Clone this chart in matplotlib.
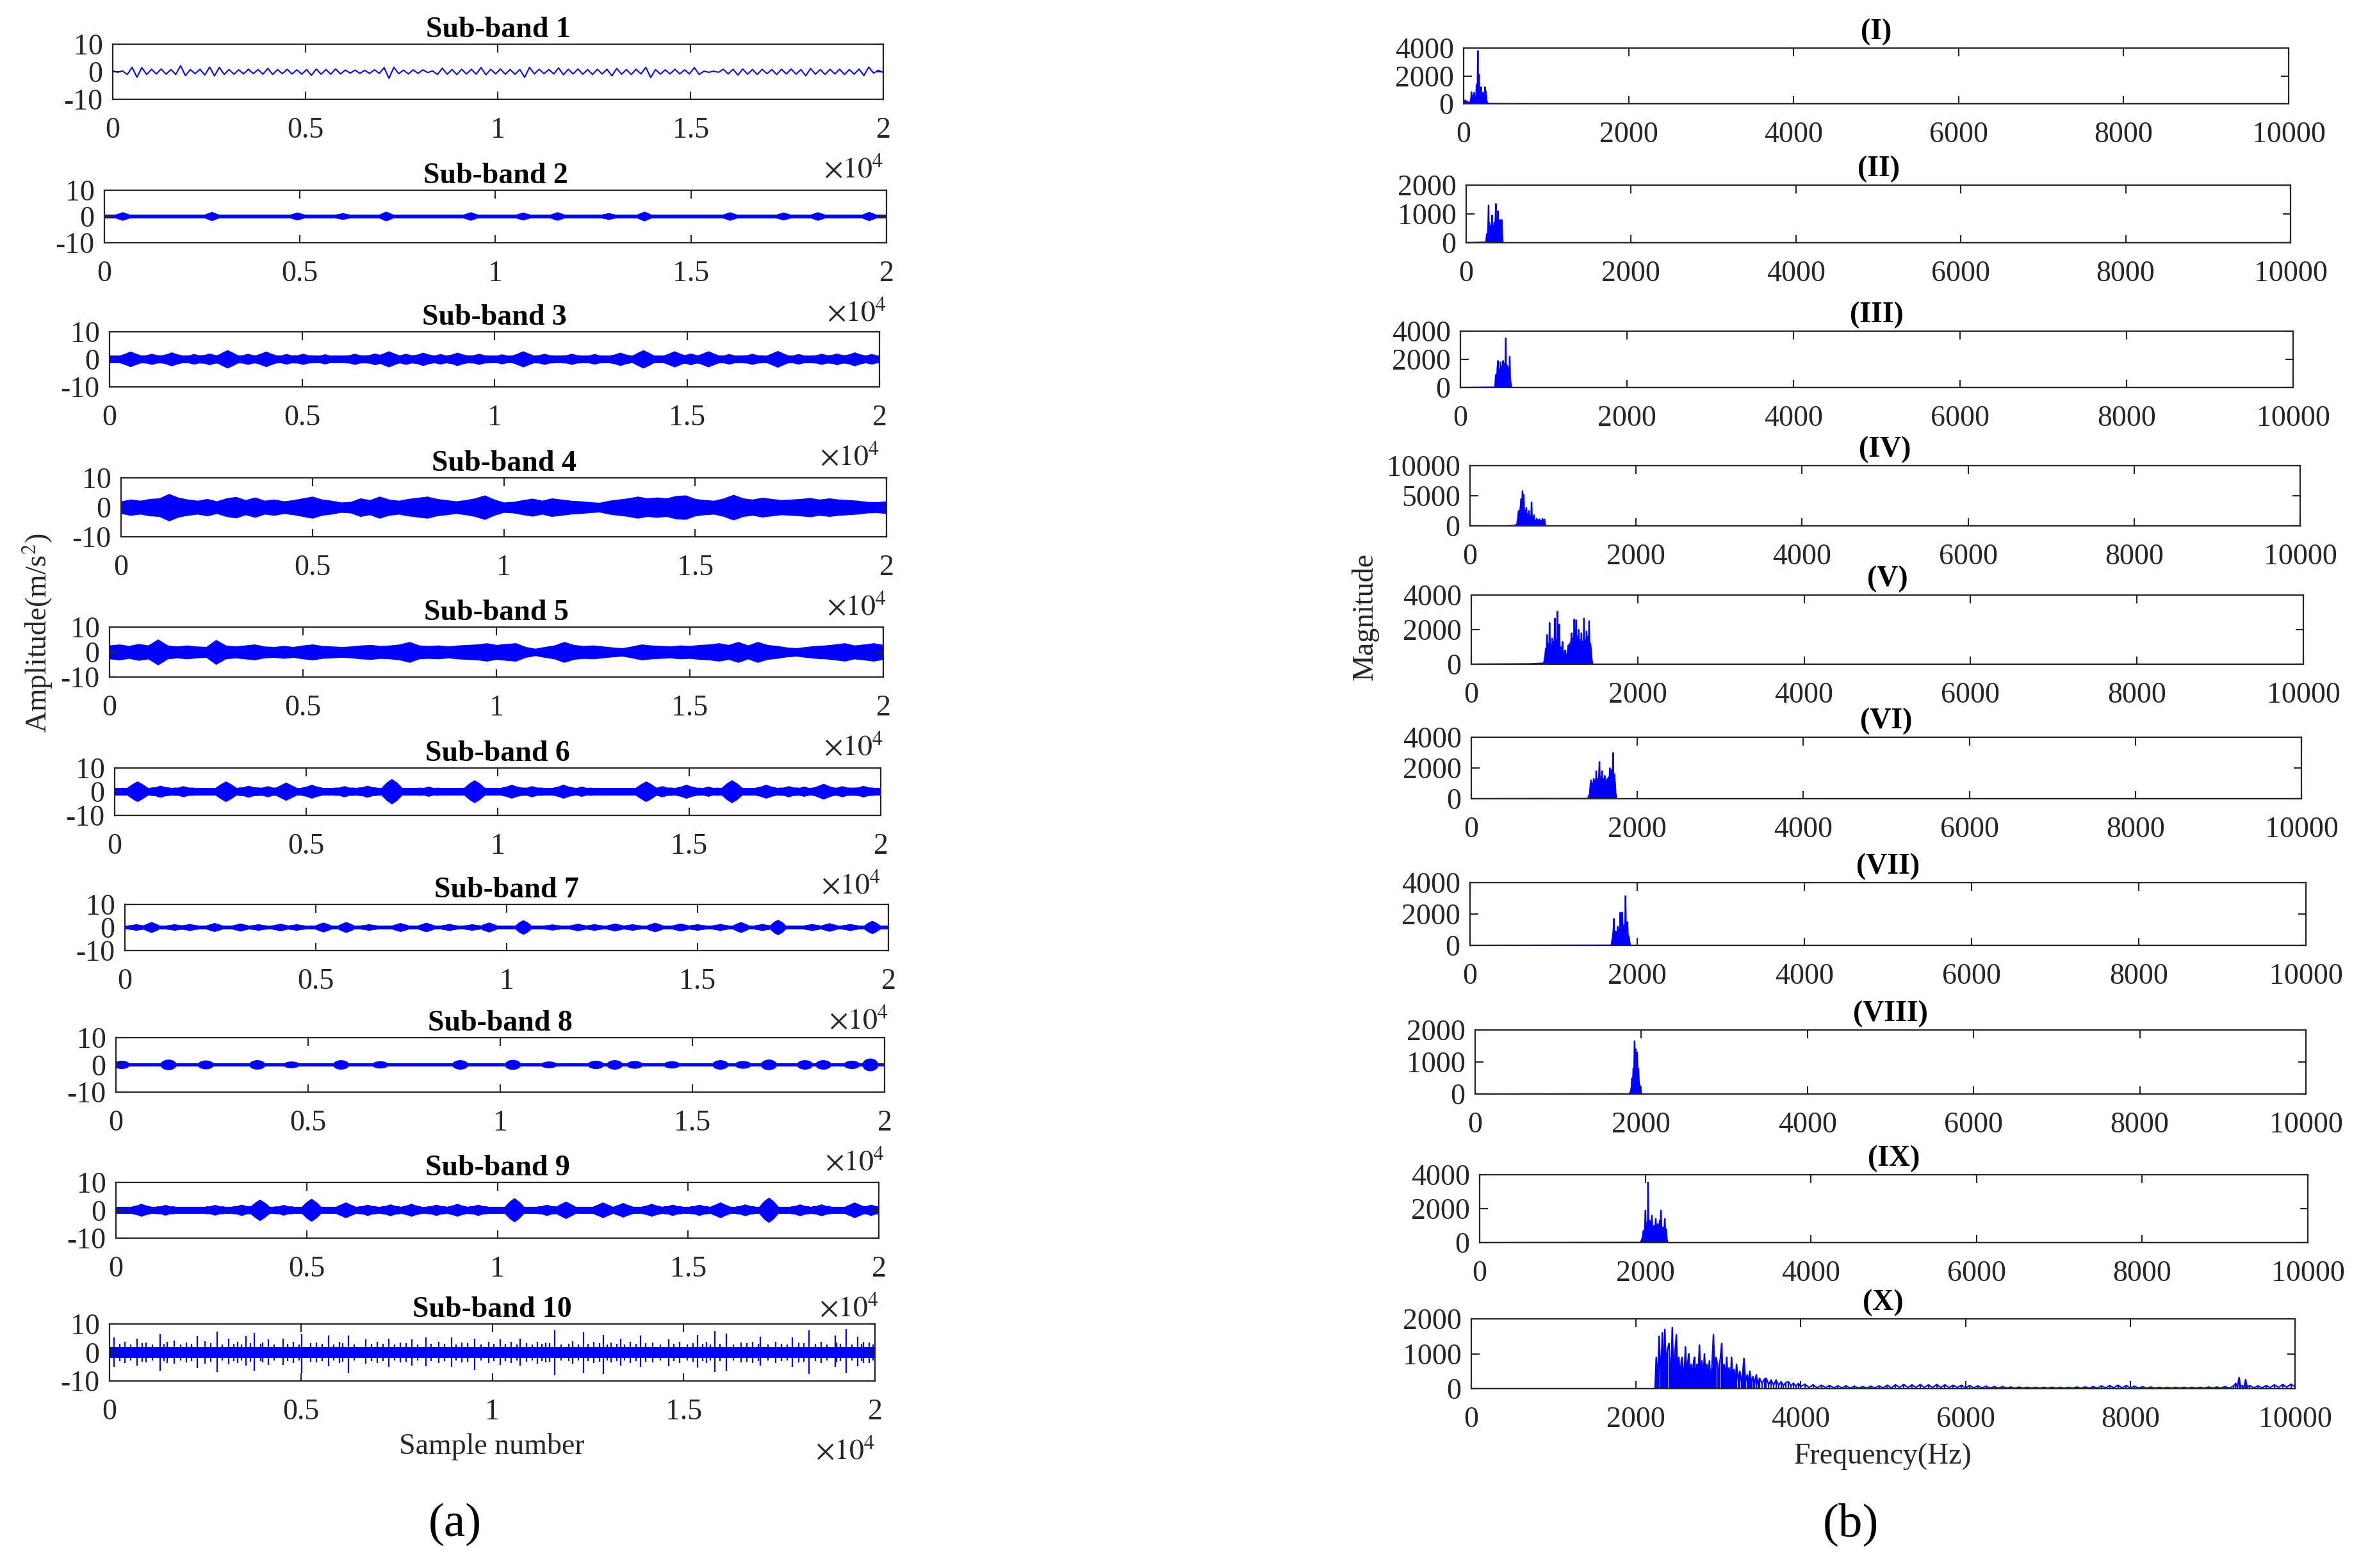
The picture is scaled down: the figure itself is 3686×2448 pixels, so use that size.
import numpy as np
import matplotlib
matplotlib.use('Agg')
import matplotlib.pyplot as plt
from matplotlib.patches import Ellipse, Polygon

plt.rcParams['font.family'] = ['Liberation Serif', 'DejaVu Serif']
plt.rcParams['mathtext.fontset'] = 'stix'
plt.rcParams['axes.unicode_minus'] = False

BLUE = '#0000FF'
DARK = '#262626'

# ---------------- data: time-domain sub-bands (samples 0..20000) ----------------
sb_titles = ['Sub-band %d' % k for k in range(1, 11)]
sample_ticks = [0, 5000, 10000, 15000, 20000]
sample_ticklabels = ['0', '0.5', '1', '1.5', '2']
amp_ticks = [-10, 0, 10]

# sub-band 1: successive oscillation extremes
sb1_extremes = [0.3, -0.2, 0.3, -1.0, 1.6, -2.0, 1.5, -1.0, 0.9, -0.8, 1.0, -0.9, 0.8, -1.0,
                2.2, -1.4, 0.8, -0.7, 0.9, -1.2, 1.7, -1.5, 1.6, -1.0,
                0.8, -0.9, 0.7, -0.8, 0.9, -0.7, 0.8, -0.9, 1.2, -1.0,
                0.8, -0.7, 0.9, -0.8, 0.7, -0.9, 0.8, -1.3, 1.0,
                -0.9, 0.8, -0.9, 1.0, -0.8, 0.6, -0.5, 0.6, -0.6, 0.5, -0.6, 0.7, -0.6,
                1.5, -2.4, 1.6, -0.7, 0.6, -0.8, 0.7, -0.6, 0.7, -0.3, 0.3, -1.0, 1.3,
                -0.9, 0.8, -1.0, 0.9, -0.8, 0.9, -0.9, 1.5, -1.1,
                0.9, -0.8, 1.0, -0.9, 0.8, -0.9, 0.8, -2.0, 1.6,
                -0.8, 0.9, -0.7, 0.8, -0.8, 1.4, -1.1,
                0.9, -0.8, 1.0, -0.9, 0.8, -1.0, 0.9, -0.8, 0.9, -1.5, 1.2,
                -0.9, 0.8, -1.0, 0.9, -0.8, 1.6, -2.1,
                0.8, -0.9, 0.7, -0.8, 0.9, -0.8, 0.7, -0.8, 1.5, -1.0,
                0.2, -0.2, 0.2, -0.2, 0.9, -0.8, 0.9, -1.2, 1.0,
                -0.9, 0.8, -1.0, 0.9, -0.7, 0.8, -1.0, 0.9, -0.8, 1.0, -0.9, 0.8, -1.5, 1.2,
                -0.9, 0.8, -1.0, 0.9, -0.8, 0.9, -1.0, 0.8, -0.9, 1.0, -1.4, 1.7, -0.5, 0.5, -0.3]

# bursty sub-bands: half-width of the quiet band + burst centres / peak amplitudes
sb2_base = 0.65
sb2_burst_at = [470, 2750, 4940, 6100, 7210, 9370, 10710, 11590, 12900, 13810, 16000, 17370, 18250, 19560]
sb2_burst_amp = [1.5, 1.6, 1.4, 1.2, 1.7, 1.5, 1.4, 1.5, 1.2, 1.7, 1.5, 1.4, 1.5, 1.6]

sb3_base = 1.3
sb3_burst_at = [550, 1620, 3070, 4070, 5030, 6370, 7260, 8150, 9040, 10750, 12010, 13270, 13870, 14680, 15560, 17360, 19360,
                1100, 2200, 2600, 3600, 4600, 5600, 6900, 7700, 8600, 9600, 10200, 11300, 12600, 15100, 16100, 16700, 17900, 18500, 18900, 19800]
sb3_burst_amp = [2.7, 2.4, 3.2, 2.7, 1.9, 1.9, 2.8, 2.3, 2.3, 2.8, 1.9, 2.3, 3.2, 2.8, 2.8, 2.9, 2.4,
                 1.9, 1.8, 2.0, 1.9, 1.8, 1.7, 2.0, 1.9, 1.8, 1.9, 1.7, 1.9, 1.8, 2.0, 1.8, 1.9, 1.8, 1.9, 2.0, 1.8]

# envelopes for sub-bands 4 and 5, read every 250 samples
sb4_env = [2.0, 2.6, 2.2, 2.8, 3.0, 4.5, 3.2, 2.6, 2.2, 2.8, 2.0, 3.0, 3.5, 2.4, 3.3, 2.2, 2.6, 2.0, 2.4, 3.0,
           3.6, 2.6, 2.2, 1.6, 1.8, 3.0, 2.4, 3.6, 2.6, 2.2, 2.8, 3.2, 3.6, 2.8, 2.4, 2.0, 2.4, 3.0, 4.0, 2.6,
           1.6, 1.8, 2.4, 2.9, 2.2, 3.0, 2.6, 2.2, 2.0, 1.7, 1.5, 2.2, 2.6, 3.0, 3.6, 3.0, 3.3, 3.0, 3.8, 4.0,
           2.8, 2.4, 2.2, 3.0, 4.2, 3.0, 2.6, 3.2, 2.8, 2.4, 2.6, 2.8, 3.1, 2.6, 3.0, 2.6, 2.4, 2.2, 1.8, 1.7, 2.0]
sb5_env = [2.6, 3.0, 2.4, 3.2, 2.6, 5.0, 2.6, 2.2, 2.6, 2.2, 2.0, 4.8, 2.6, 2.2, 2.6, 3.0, 2.2, 2.0, 2.4, 2.0,
           2.6, 3.0, 2.4, 2.2, 2.0, 2.2, 2.6, 2.8, 2.4, 2.6, 3.0, 4.0, 2.6, 2.4, 2.6, 2.2, 2.6, 2.8, 3.0, 3.5,
           2.8, 3.2, 3.5, 2.0, 1.3, 2.0, 2.6, 4.0, 2.8, 2.4, 2.6, 2.2, 1.8, 1.5, 2.2, 3.0, 2.6, 2.4, 2.2, 2.6,
           2.4, 2.8, 3.0, 3.5, 2.8, 4.0, 2.6, 4.0, 2.8, 2.4, 1.8, 1.5, 2.0, 2.4, 2.6, 3.0, 3.5, 2.6, 3.0, 3.5, 2.8]

sb6_base = 1.6
sb6_burst_at = [600, 2910, 4480, 5150, 7240, 9400, 10370, 11720, 13880, 14930, 16120, 17010, 18510, 19550,
                1200, 1800, 3500, 4000, 6000, 6600, 8200, 10900, 12200, 14300, 15500, 17600, 18000, 19000]
sb6_burst_amp = [4.2, 4.2, 3.7, 2.8, 5.2, 4.7, 2.8, 2.8, 4.2, 2.8, 4.7, 2.8, 3.2, 2.3,
                 2.4, 2.2, 2.4, 2.2, 2.2, 2.4, 2.0, 2.2, 2.0, 2.2, 2.0, 2.2, 2.0, 2.2]

sb7_base = 0.8
sb7_burst_at = [300, 700, 1300, 1700, 2350, 3030, 3500, 4070, 4500, 5200, 5800, 6400, 7220, 7900, 8500, 9100, 9540,
                10440, 11200, 11870, 12300, 12840, 13300, 13890, 14560, 15000, 15600, 16140, 16700, 17110, 18000, 18460, 19000, 19580]
sb7_burst_amp = [1.3, 2.2, 1.3, 1.4, 1.8, 1.6, 1.3, 1.5, 1.3, 2.0, 2.2, 1.3, 1.8, 1.9, 1.4, 1.3, 2.0,
                 3.0, 1.2, 1.5, 1.3, 1.6, 1.3, 1.9, 1.6, 1.3, 1.4, 2.2, 1.4, 3.2, 1.4, 1.7, 1.4, 2.7]

sb8_base = 0.55
sb8_burst_at = [150, 1370, 2340, 3680, 4570, 5860, 6880, 8960, 10330, 11270, 12490, 12980, 13500, 14470, 15730, 16320,
                16990, 17930, 18410, 19150, 19630]
sb8_burst_amp = [1.4, 1.8, 1.5, 1.6, 1.1, 1.6, 1.2, 1.6, 1.7, 1.1, 1.4, 1.6, 1.3, 1.2, 1.6, 1.3, 1.8, 1.6, 1.6, 1.4, 2.2]

sb9_base = 1.3
sb9_burst_at = [670, 1300, 2600, 3300, 3780, 4400, 5130, 6030, 6600, 7200, 7750, 8400, 8950, 9500, 10450, 11300, 11800,
                12770, 13300, 14050, 14600, 15300, 15850, 16500, 17120, 17940, 18500, 19370, 19800]
sb9_burst_amp = [2.2, 1.8, 1.8, 1.9, 3.7, 1.8, 4.0, 2.7, 1.9, 2.0, 2.2, 1.9, 2.2, 1.9, 4.2, 1.9, 3.0,
                 2.7, 2.5, 2.2, 1.9, 1.9, 2.7, 2.0, 4.4, 2.0, 2.0, 2.7, 1.9]

sb10_base = 1.9
sb10_spike_at = [120, 718, 1315, 1689, 2287, 2810, 3109, 3557, 3782, 4155, 4529, 5022, 5725, 6248, 6697, 7294, 7892, 8266,
                 8939, 9537, 10209, 10732, 11181, 11629, 12377, 12900, 13348, 13871, 14619, 15366, 15815, 16114, 17010,
                 17833, 18281, 18954, 19253, 19552, 19851]
sb10_spike_up = [5.2, 4.8, 6.4, 4.1, 5.7, 7.3, 4.8, 5.7, 6.8, 4.5, 4.8, 6.5, 5.9, 5.9, 4.5, 4.8, 4.5, 5.2, 5.2, 4.8,
                 4.5, 4.8, 3.8, 7.7, 7.1, 6.2, 4.8, 5.9, 4.5, 6.2, 7.5, 6.6, 5.5, 5.2, 7.8, 5.9, 8.2, 5.5, 3.4]
sb10_spike_dn = [5.1, 4.5, 6.5, 4.0, 5.5, 6.9, 4.2, 4.5, 6.5, 4.3, 4.4, 7.2, 4.8, 7.2, 4.0, 5.0, 4.6, 4.8, 5.1, 6.1,
                 4.4, 4.6, 4.0, 7.9, 7.4, 7.6, 4.5, 5.0, 4.8, 5.2, 6.9, 6.5, 4.6, 5.0, 7.6, 5.0, 7.4, 4.8, 3.8]
sb10_mid_at = [400, 950, 1500, 2000, 2500, 3350, 4000, 4800, 5400, 6000, 7000, 7600, 8600, 9200, 9900, 10500, 11400,
               12100, 12650, 13100, 13600, 14200, 14900, 15600, 16500, 16800, 17400, 18000, 18600, 19000, 19700]
sb10_mid_amp = [3.6, 3.4, 3.8, 3.5, 3.9, 3.6, 3.4, 3.7, 3.5, 3.8, 3.6, 3.4, 3.7, 3.5, 3.6, 3.8, 3.4, 3.9, 3.6, 3.5,
                3.7, 3.4, 3.6, 3.8, 3.5, 3.7, 3.6, 3.4, 3.8, 3.5, 3.6]
sb10_small_at = [260, 560, 860, 1120, 1420, 1850, 2150, 2650, 2950, 3250, 3450, 3680, 3950, 4300, 4650, 4950, 5250,
                 5550, 5850, 6100, 6400, 6850, 7150, 7450, 7750, 8050, 8400, 8750, 9050, 9350, 9700, 10050, 10350,
                 10650, 10900, 11050, 11300, 11500, 11800, 12000, 12250, 12500, 12800, 13000, 13250, 13450, 13750,
                 14000, 14400, 14750, 15100, 15250, 15500, 15700, 15950, 16300, 16650, 16950, 17200, 17550, 17700,
                 18150, 18450, 18750, 19100, 19400, 19650, 19950]
sb10_small_amp = [3.0, 2.8, 3.2, 2.9, 3.1, 2.8, 3.0, 3.3, 2.9, 3.1, 2.8, 3.2, 3.0, 2.9, 3.1, 2.8, 3.2, 3.0, 2.9, 3.3,
                  2.8, 3.0, 3.1, 2.9, 3.2, 2.8, 3.0, 3.1, 2.9, 3.2, 2.8, 3.0, 3.1, 2.9, 3.3, 2.8, 3.0, 3.2, 2.9, 3.1,
                  2.8, 3.0, 3.2, 2.9, 3.1, 2.8, 3.0, 3.3, 2.9, 3.1, 2.8, 3.2, 3.0, 2.9, 3.1, 2.8, 3.2, 3.0, 2.9, 3.1,
                  2.8, 3.2, 3.0, 2.9, 3.1, 2.8, 3.0, 2.9]

# ---------------- data: spectra (bin frequency, magnitude) ----------------
spec_titles = ['(I)', '(II)', '(III)', '(IV)', '(V)', '(VI)', '(VII)', '(VIII)', '(IX)', '(X)']
spec_ymax = [4000, 2000, 4000, 10000, 4000, 4000, 4000, 2000, 4000, 2000]
freq_ticks = [0, 2000, 4000, 6000, 8000, 10000]

s1_f = [0, 10, 20, 30, 40, 50, 60, 70, 80, 90, 95, 100, 110, 120, 130, 135, 140, 150, 157, 163, 168, 173, 178, 183, 188,
        193, 200, 207, 212, 218, 225, 231, 236, 242, 248, 254, 259, 265, 270, 275, 282, 290, 300, 500, 900, 10000]
s1_m = [300, 120, 250, 80, 200, 60, 120, 50, 150, 400, 850, 300, 600, 200, 800, 350, 500, 250, 1400, 600, 1000, 3800, 700,
        1500, 2100, 500, 900, 300, 1200, 250, 600, 200, 800, 300, 700, 200, 1200, 300, 900, 600, 150, 50, 10, 5, 0, 0]
s2_f = [0, 240, 250, 258, 265, 272, 275, 280, 287, 294, 300, 307, 314, 320, 327, 334, 340, 347, 354, 361, 367, 374, 380,
        385, 390, 396, 402, 408, 414, 420, 426, 432, 438, 445, 10000]
s2_m = [0, 20, 300, 150, 500, 1300, 300, 700, 200, 600, 250, 500, 950, 200, 600, 300, 700, 250, 800, 1350, 300, 700, 400,
        1100, 500, 700, 300, 800, 300, 750, 400, 800, 300, 0, 0]
s3_f = [0, 415, 425, 435, 445, 451, 458, 465, 472, 478, 482, 488, 495, 502, 508, 513, 520, 527, 533, 540, 545, 550, 556,
        562, 568, 574, 580, 586, 592, 598, 605, 612, 10000]
s3_m = [0, 20, 900, 400, 1500, 1900, 700, 1300, 600, 1400, 1800, 800, 1500, 700, 1600, 1900, 800, 1700, 900, 1800, 3500,
        900, 1600, 700, 1500, 600, 1300, 500, 2200, 700, 300, 0, 0]
s4_f = [0, 450, 540, 565, 575, 585, 595, 605, 616, 624, 632, 640, 647, 655, 663, 671, 679, 687, 695, 703, 710, 718, 726,
        734, 741, 749, 757, 765, 772, 780, 788, 796, 803, 811, 819, 827, 835, 843, 851, 859, 866, 874, 882, 890, 897, 905,
        915, 10000]
s4_m = [0, 0, 50, 300, 1200, 2500, 1500, 2800, 4500, 2000, 5800, 3000, 5200, 1800, 2600, 1200, 3000, 900, 2000, 800, 2500,
        1000, 1600, 700, 3900, 900, 1500, 600, 1800, 500, 900, 400, 1200, 500, 1000, 300, 1100, 400, 900, 300, 800, 1200,
        300, 700, 1100, 300, 0, 0]
s5_f = [0, 700, 870, 885, 895, 903, 910, 918, 926, 934, 941, 949, 957, 965, 972, 980, 988, 996, 1004, 1012, 1020, 1028,
        1035, 1043, 1050, 1058, 1066, 1074, 1082, 1090, 1097, 1105, 1113, 1120, 1128, 1136, 1144, 1152, 1160, 1167, 1175,
        1183, 1191, 1199, 1206, 1214, 1222, 1230, 1237, 1245, 1253, 1261, 1269, 1277, 1285, 1292, 1300, 1308, 1316, 1323,
        1331, 1339, 1347, 1354, 1362, 1370, 1378, 1385, 1393, 1401, 1409, 1416, 1424, 1432, 1440, 1448, 1458, 10000]
s5_m = [0, 20, 60, 400, 900, 600, 1700, 500, 1200, 700, 2400, 600, 1100, 400, 1500, 500, 1300, 700, 2650, 800, 1400, 900,
        3050, 700, 1500, 2300, 600, 1000, 300, 800, 1300, 300, 700, 250, 800, 300, 600, 400, 900, 1100, 500, 1200, 600, 1400,
        1800, 700, 1500, 900, 2600, 800, 1300, 2550, 700, 1600, 900, 2000, 800, 1400, 600, 1800, 700, 1300, 800, 2650, 900,
        1400, 700, 1900, 800, 1600, 900, 2500, 700, 1200, 800, 300, 0, 0]
s6_f = [0, 1400, 1425, 1435, 1443, 1451, 1459, 1466, 1474, 1482, 1490, 1498, 1505, 1513, 1521, 1529, 1537, 1544, 1552,
        1560, 1568, 1576, 1584, 1592, 1600, 1607, 1615, 1623, 1630, 1638, 1646, 1654, 1662, 1669, 1677, 1685, 1693, 1700,
        1708, 1716, 1724, 1732, 1740, 1750, 10000]
s6_m = [0, 10, 300, 900, 1200, 500, 1000, 600, 1300, 700, 1200, 800, 1800, 600, 1300, 700, 1500, 2400, 800, 1400, 900,
        1800, 700, 1300, 600, 1500, 800, 1200, 500, 1300, 700, 1400, 900, 2000, 800, 1500, 1900, 900, 3000, 800, 1600, 1100,
        300, 0, 0]
s7_f = [0, 1690, 1705, 1713, 1721, 1729, 1737, 1744, 1752, 1760, 1767, 1775, 1783, 1790, 1798, 1806, 1814, 1821, 1829,
        1837, 1845, 1852, 1860, 1868, 1875, 1883, 1891, 1900, 1910, 1920, 10000]
s7_m = [0, 10, 500, 900, 1700, 400, 800, 900, 300, 700, 1200, 500, 1000, 800, 2100, 700, 1400, 2100, 800, 1200, 1300, 600,
        3150, 700, 1200, 1500, 500, 600, 200, 0, 0]
s8_f = [0, 1850, 1870, 1880, 1888, 1896, 1904, 1911, 1919, 1927, 1934, 1942, 1950, 1958, 1966, 1974, 1981, 1990, 2000, 10000]
s8_m = [0, 5, 60, 200, 500, 300, 800, 600, 1650, 900, 1400, 1000, 1300, 700, 800, 300, 300, 60, 0, 0]
s9_f = [0, 1940, 1960, 1970, 1978, 1986, 1994, 2002, 2010, 2018, 2025, 2029, 2033, 2041, 2049, 2056, 2064, 2072, 2080,
        2088, 2096, 2103, 2111, 2119, 2127, 2135, 2143, 2150, 2158, 2166, 2174, 2182, 2190, 2198, 2205, 2213, 2221, 2229,
        2236, 2244, 2252, 2262, 2272, 10000]
s9_m = [0, 10, 200, 400, 700, 300, 900, 1900, 500, 900, 1200, 600, 3550, 700, 900, 1300, 500, 900, 1600, 600, 700, 1000,
        400, 800, 1400, 500, 700, 1100, 400, 800, 1300, 600, 1900, 700, 400, 900, 500, 700, 1400, 600, 800, 200, 0, 0]
s10_points = [(0, 0), (2200, 0), (2230, 0), (2245, 900), (2265, 300), (2280, 1500), (2300, 400), (2320, 1600), (2335, 500),
              (2350, 1700), (2365, 600), (2380, 1100), (2400, 1300), (2415, 300), (2430, 900), (2440, 1750), (2455, 500),
              (2470, 1000), (2490, 1550), (2505, 400), (2520, 900), (2535, 300), (2550, 800), (2560, 900), (2575, 300),
              (2590, 700), (2600, 1200), (2615, 400), (2630, 800), (2640, 1000), (2655, 300), (2670, 700), (2685, 400),
              (2700, 800), (2710, 900), (2725, 300), (2740, 700), (2755, 500), (2770, 1250), (2785, 400), (2800, 800),
              (2815, 300), (2830, 1000), (2845, 400), (2860, 700), (2875, 250), (2890, 800), (2905, 300), (2920, 600),
              (2940, 1550), (2955, 400), (2970, 900), (2990, 700), (3005, 300), (3020, 800), (3040, 1300), (3055, 300),
              (3070, 700), (3085, 250), (3100, 900), (3115, 300), (3130, 600), (3145, 200), (3160, 900), (3175, 300),
              (3190, 550), (3205, 200), (3220, 700), (3240, 250), (3260, 500), (3280, 200), (3295, 450), (3310, 870),
              (3330, 200), (3350, 400), (3365, 150), (3380, 500), (3400, 200), (3420, 350), (3440, 150), (3460, 400),
              (3480, 120), (3500, 300), (3530, 150), (3560, 280), (3580, 300), (3610, 120), (3640, 250), (3670, 100),
              (3700, 250), (3730, 100), (3760, 200), (3790, 90), (3820, 180), (3850, 200), (3880, 80), (3910, 160),
              (3940, 70), (3970, 150), (4000, 60), (4050, 130), (4100, 30), (4150, 110), (4200, 20), (4250, 100),
              (4300, 30), (4350, 90), (4400, 20), (4450, 80), (4500, 20), (4550, 80), (4600, 15), (4650, 70), (4700, 15),
              (4750, 60), (4800, 15), (4850, 70), (4900, 20), (4950, 80), (5000, 20), (5050, 100), (5100, 20), (5150, 110),
              (5200, 30), (5250, 120), (5300, 30), (5350, 110), (5400, 30), (5450, 120), (5500, 30), (5550, 110),
              (5600, 30), (5650, 120), (5700, 30), (5750, 110), (5800, 30), (5850, 100), (5900, 30), (5950, 100),
              (6000, 20), (6050, 90), (6100, 20), (6150, 80), (6200, 20), (6250, 70), (6300, 15), (6350, 60), (6400, 15),
              (6450, 60), (6500, 15), (6550, 50), (6600, 10), (6650, 50), (6700, 10), (6750, 40), (6800, 10), (6850, 40),
              (6900, 10), (6950, 40), (7000, 10), (7050, 40), (7100, 10), (7150, 40), (7200, 10), (7250, 40), (7300, 10),
              (7350, 50), (7400, 10), (7450, 50), (7500, 15), (7550, 60), (7600, 15), (7650, 80), (7700, 20), (7750, 90),
              (7800, 20), (7850, 100), (7900, 20), (7950, 90), (8000, 20), (8050, 70), (8100, 15), (8150, 60), (8200, 10),
              (8250, 50), (8300, 10), (8350, 40), (8400, 10), (8450, 40), (8500, 10), (8550, 40), (8600, 10), (8650, 40),
              (8700, 10), (8750, 40), (8800, 10), (8850, 40), (8900, 10), (8950, 50), (9000, 15), (9050, 50), (9100, 15),
              (9150, 60), (9200, 15), (9250, 70), (9280, 150), (9300, 40), (9320, 320), (9340, 60), (9360, 90), (9380, 30),
              (9400, 260), (9420, 40), (9450, 90), (9500, 20), (9550, 80), (9600, 20), (9650, 90), (9700, 30),
              (9750, 110), (9800, 30), (9850, 120), (9900, 40), (9950, 130), (10000, 60)]
s10_f = [p[0] for p in s10_points]
s10_m = [p[1] for p in s10_points]

spec_f = [s1_f, s2_f, s3_f, s4_f, s5_f, s6_f, s7_f, s8_f, s9_f, s10_f]
spec_m = [s1_m, s2_m, s3_m, s4_m, s5_m, s6_m, s7_m, s8_m, s9_m, s10_m]

# ---------------- layout (pixel boxes: left, top, right, bottom) ----------------
W, H = 3686, 2448
left_boxes = [(176, 69, 1379, 155), (163, 297, 1384, 379), (171, 518, 1373, 604), (189, 746, 1384, 838),
              (171, 979, 1379, 1057), (179, 1199, 1375, 1273), (195, 1412, 1387, 1484), (181, 1620, 1381, 1705),
              (181, 1846, 1372, 1933), (171, 2067, 1366, 2156)]
right_boxes = [(2285, 75, 3573, 162), (2289, 289, 3576, 379), (2280, 517, 3580, 605), (2295, 727, 3591, 821),
               (2297, 929, 3596, 1037), (2297, 1151, 3593, 1247), (2295, 1378, 3600, 1476), (2303, 1608, 3600, 1708),
               (2310, 1834, 3603, 1940), (2297, 2059, 3583, 2168)]

fig = plt.figure(figsize=(W / 100, H / 100), dpi=100)
FS = 33


def add_ax(box):
    l, t, r, b = box
    return fig.add_axes([l / W, 1 - b / H, (r - l) / W, (b - t) / H])


def style(ax):
    for s in ax.spines.values():
        s.set_linewidth(1.6)
        s.set_color(DARK)
    ax.tick_params(direction='in', length=9, width=1.5, top=True, right=True,
                   labelsize=FS, color=DARK, labelcolor=DARK)
    ax.tick_params(axis='x', pad=20)
    ax.tick_params(axis='y', pad=11)


def band_fill(ax, base):
    ax.fill_between([sample_ticks[0], sample_ticks[-1]], [-base, -base], [base, base], color=BLUE, lw=0)


def spindles(ax, at, amp, hw, base):
    # burst drawn as a pointed spindle reaching +/- its peak amplitude
    for c, a in zip(at, amp):
        pts = [(c - hw, base), (c - 0.5 * hw, 0.72 * a), (c, a), (c + 0.5 * hw, 0.72 * a), (c + hw, base),
               (c + hw, -base), (c + 0.5 * hw, -0.72 * a), (c, -a), (c - 0.5 * hw, -0.72 * a), (c - hw, -base)]
        ax.add_patch(Polygon(pts, closed=True, facecolor=BLUE, edgecolor=BLUE, lw=0.8))


def lenses(ax, at, amp, hw):
    for c, a in zip(at, amp):
        ax.add_patch(Ellipse((c, 0), 2 * hw, 2 * a, facecolor=BLUE, edgecolor=BLUE, lw=0.8))


left_axes = [add_ax(b) for b in left_boxes]
for k, ax in enumerate(left_axes):
    style(ax)
    ax.set_xlim(0, 20000)
    ax.set_ylim(-10, 10)
    ax.set_xticks(sample_ticks)
    ax.set_xticklabels(sample_ticklabels)
    ax.set_yticks(amp_ticks)
    ax.set_yticklabels([str(v) for v in amp_ticks])
    ax.set_title(sb_titles[k], fontsize=FS, fontweight='bold', pad=8)
    ax.annotate(r'$\times10^{4}$', xy=(1, 0), xycoords='axes fraction', xytext=(0, -110),
                textcoords='offset pixels', ha='right', va='center', fontsize=FS, color=DARK)

# sub-band 1
x1 = np.linspace(0, 20000, len(sb1_extremes))
left_axes[0].plot(x1, sb1_extremes, color=BLUE, lw=1.5)
# sub-band 2
band_fill(left_axes[1], sb2_base)
spindles(left_axes[1], sb2_burst_at, sb2_burst_amp, 170, sb2_base)
# sub-band 3
band_fill(left_axes[2], sb3_base)
spindles(left_axes[2], sb3_burst_at, sb3_burst_amp, 270, sb3_base)
# sub-band 4, 5
x45 = np.linspace(0, 20000, len(sb4_env))
for ax, env in [(left_axes[3], sb4_env), (left_axes[4], sb5_env)]:
    a = np.array(env)
    ax.fill_between(x45, -a, a, color=BLUE, lw=1.0, edgecolor=BLUE)
# sub-band 6
band_fill(left_axes[5], sb6_base)
spindles(left_axes[5], sb6_burst_at, sb6_burst_amp, 260, sb6_base)
# sub-band 7
band_fill(left_axes[6], sb7_base)
spindles(left_axes[6], sb7_burst_at, sb7_burst_amp, 200, sb7_base)
# sub-band 8
band_fill(left_axes[7], sb8_base)
lenses(left_axes[7], sb8_burst_at, sb8_burst_amp, 200)
# sub-band 9
band_fill(left_axes[8], sb9_base)
spindles(left_axes[8], sb9_burst_at, sb9_burst_amp, 240, sb9_base)
# sub-band 10
ax10 = left_axes[9]
band_fill(ax10, sb10_base)
ax10.vlines(sb10_spike_at, [-v for v in sb10_spike_dn], sb10_spike_up, color=BLUE, lw=1.6)
ax10.vlines(sb10_mid_at, [-v for v in sb10_mid_amp], sb10_mid_amp, color=BLUE, lw=1.6)
ax10.vlines(sb10_small_at, [-v for v in sb10_small_amp], sb10_small_amp, color=BLUE, lw=1.6)

# spectra: each bin drawn from zero up to its magnitude, tops joined by the trace
for k, box in enumerate(right_boxes):
    ax = add_ax(box)
    style(ax)
    ax.vlines(spec_f[k], 0, spec_m[k], color=BLUE, lw=1.6)
    ax.plot(spec_f[k], spec_m[k], color=BLUE, lw=1.6)
    ax.set_xlim(0, 10000)
    ax.set_ylim(0, spec_ymax[k])
    ax.set_xticks(freq_ticks)
    ax.set_xticklabels([str(v) for v in freq_ticks])
    yt = [0, spec_ymax[k] // 2, spec_ymax[k]]
    ax.set_yticks(yt)
    ax.set_yticklabels([str(v) for v in yt])
    ax.set_title(spec_titles[k], fontsize=FS, fontweight='bold', pad=10)

# figure labels
fig.text(59 / W, 1 - 988 / H, 'Amplitude(m/s$^{2}$)', rotation=90, ha='center', va='center', fontsize=FS, color=DARK)
fig.text(2131 / W, 1 - 963 / H, 'Magnitude', rotation=90, ha='center', va='center', fontsize=FS, color=DARK)
fig.text(768 / W, 1 - 2258 / H, 'Sample number', ha='center', va='center', fontsize=FS, color=DARK)
fig.text(2940 / W, 1 - 2274 / H, 'Frequency(Hz)', ha='center', va='center', fontsize=FS, color=DARK)
fig.text(710 / W, 1 - 2380 / H, '(a)', ha='center', va='center', fontsize=54)
fig.text(2889 / W, 1 - 2380 / H, '(b)', ha='center', va='center', fontsize=54)

fig.savefig('out.png', dpi=100)
